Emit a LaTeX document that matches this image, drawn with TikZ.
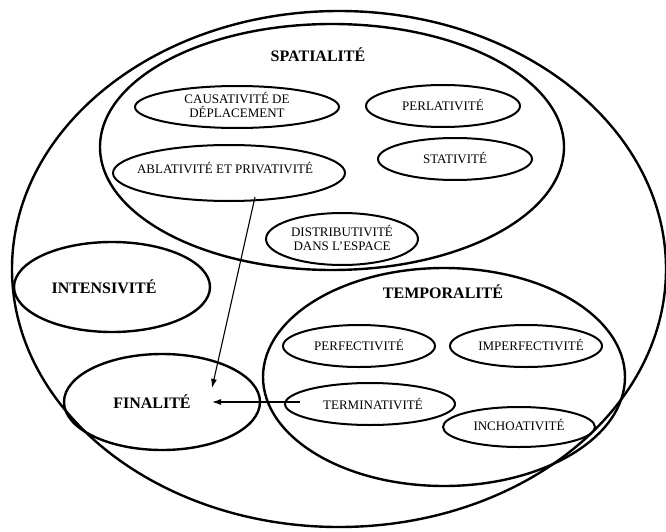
\documentclass[tikz,border=0pt]{standalone}
\usepackage{fontspec}
\setmainfont{Liberation Serif}
\usetikzlibrary{shapes.geometric,arrows.meta}

\tikzset{
  zone/.style={draw,ellipse,line width=2.4pt,inner sep=0pt},
  sous/.style={draw,ellipse,line width=2pt,inner sep=0pt},
  notion/.style={font=\fontsize{13}{14}\selectfont,align=center},
  titre/.style={font=\bfseries\fontsize{16}{18}\selectfont},
  lien/.style={-{Latex[length=9pt,width=6pt]},line width=1.1pt}
}

\begin{document}
\begin{tikzpicture}[x=1pt,y=-1pt]
  \useasboundingbox (0,0) rectangle (666,532);

  % grandes zones
  \node (tout) at (339,269) [zone,minimum width=654pt,minimum height=516pt] {};
  \node (spat) at (332,147) [zone,minimum width=464pt,minimum height=246pt] {};
  \node (temp) at (444,377) [zone,minimum width=362pt,minimum height=218pt] {};
  \node (inten) at (112,287) [zone,minimum width=196pt,minimum height=90pt] {};
  \node (fin) at (162,402) [zone,minimum width=196pt,minimum height=96pt] {};

  \node (tspat) at (318,55) [titre] {SPATIALITÉ};
  \node (ttemp) at (443,292) [titre] {TEMPORALITÉ};
  \node (tinten) at (104,287) [titre] {INTENSIVITÉ};
  \node (tfin) at (152,402) [titre] {FINALITÉ};

  % spatialite
  \node (caus) at (237,107) [sous,minimum width=204pt,minimum height=42pt] {};
  \node (perl) at (443,106) [sous,minimum width=154pt,minimum height=42pt] {};
  \node (abla) at (229,173) [sous,minimum width=232pt,minimum height=56pt] {};
  \node (stat) at (455,159) [sous,minimum width=154pt,minimum height=42pt] {};
  \node (distr) at (342,239) [sous,minimum width=152pt,minimum height=52pt] {};

  \node (tcaus) at (237,105) [notion] {CAUSATIVITÉ DE\\DÉPLACEMENT};
  \node (tperl) at (443,105) [notion] {PERLATIVITÉ};
  \node (tabla) at (225,168) [notion] {ABLATIVITÉ ET PRIVATIVITÉ};
  \node (tstat) at (455,158) [notion] {STATIVITÉ};
  \node (tdistr) at (342,238) [notion] {DISTRIBUTIVITÉ\\DANS L’ESPACE};

  % temporalite
  \node (perf) at (359,346) [sous,minimum width=152pt,minimum height=42pt] {};
  \node (imperf) at (526,346) [sous,minimum width=152pt,minimum height=42pt] {};
  \node (term) at (370,404) [sous,minimum width=170pt,minimum height=42pt] {};
  \node (inch) at (519,427) [sous,minimum width=152pt,minimum height=40pt] {};

  \node (tperf) at (359,345) [notion] {PERFECTIVITÉ};
  \node (timperf) at (531,345) [notion] {IMPERFECTIVITÉ};
  \node (tterm) at (373,404) [notion] {TERMINATIVITÉ};
  \node (tinch) at (519,425) [notion] {INCHOATIVITÉ};

  % fleches
  \coordinate (d1) at (255,197);
  \coordinate (f1) at (212,388);
  \coordinate (d2) at (300,402);
  \coordinate (f2) at (212,402);
  \draw[lien] (d1) -- (f1);
  \draw[lien] (d2) -- (f2);
\end{tikzpicture}
\end{document}
